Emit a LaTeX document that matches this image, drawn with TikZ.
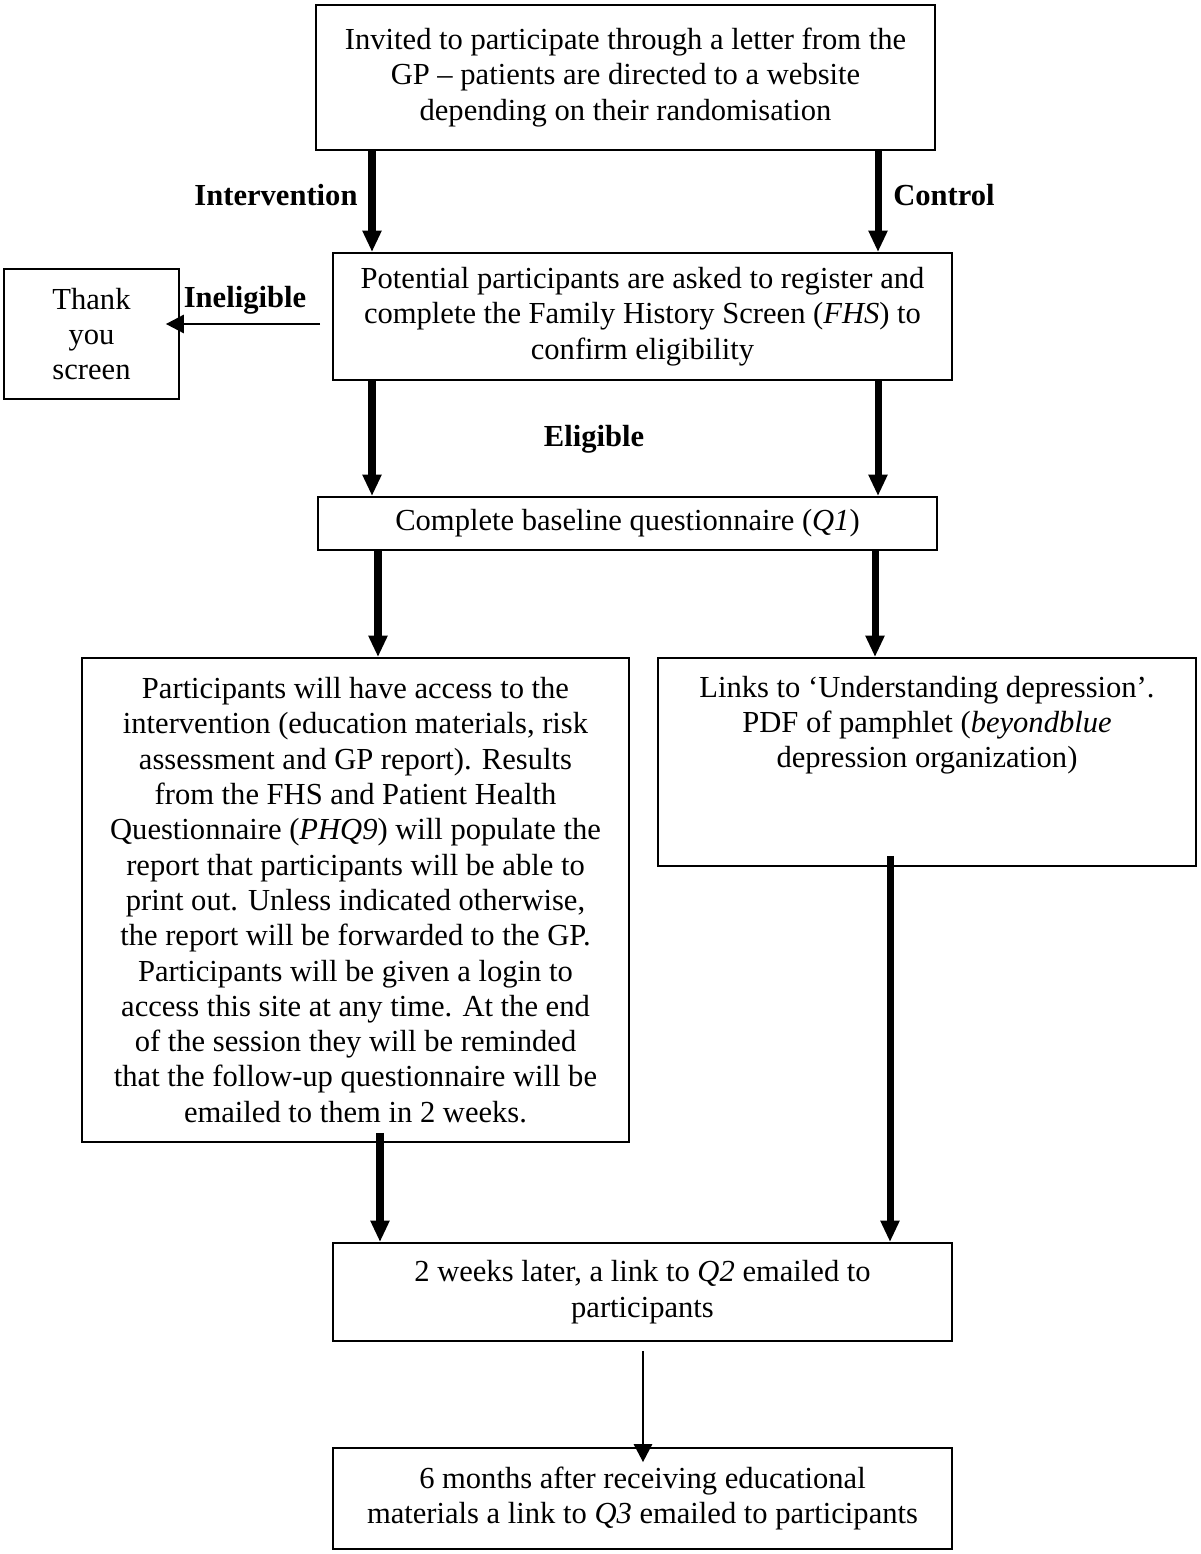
\documentclass[tikz,border=0pt]{standalone}
\usepackage{fontspec}
\setmainfont{Liberation Serif}
\usetikzlibrary{arrows.meta}

\tikzset{
  stage/.style={draw, line width=1.1pt, align=center, inner sep=0pt,
    font=\fontsize{17.4}{20.1}\selectfont},
  lbl/.style={font=\fontsize{17.4}{20.1}\selectfont\bfseries, inner sep=0pt},
  flow/.style={line width=4pt, -{Triangle[length=0.43cm,width=0.36cm]}},
  thinflow/.style={line width=0.8pt, -{Triangle[length=0.36cm,width=0.37cm]}}
}

\begin{document}
\begin{tikzpicture}[x=0.02cm, y=-0.02cm]
\useasboundingbox (0,0) rectangle (1200,1554);
% invitation
  \node[stage, minimum width=12.38cm, minimum height=2.9cm] (invite) at (625.5,77.5)
    {Invited to participate through a letter from the\\
     GP -- patients are directed to a website\\
     depending on their randomisation};
  \node[lbl] (intlbl) at (276,195) {Intervention};
  \node[lbl] (ctllbl) at (944,195) {Control};
% registration
  \node[stage, minimum width=12.38cm, minimum height=2.54cm] (register) at (642.5,316.5)
    {Potential participants are asked to register and\\
     complete the Family History Screen (\textit{FHS}) to\\
     confirm eligibility};
  \node[stage, minimum width=3.5cm, minimum height=2.6cm] (thanks) at (91.5,334)
    {Thank\\ you\\ screen};
  \node[lbl] (inellbl) at (245,300) {Ineligible};
  \node[lbl] (elilbl) at (594,439) {Eligible};
% baseline
  \node[stage, minimum width=12.38cm, minimum height=1.06cm] (baseline) at (627.5,523.5)
    {Complete baseline questionnaire (\textit{Q1})};
% arms
  \node[stage, minimum width=10.94cm, minimum height=9.68cm] (interv) at (355.5,900)
    {Participants will have access to the\\
     intervention (education materials, risk\\
     assessment and GP report). Results\\
     from the FHS and Patient Health\\
     Questionnaire (\textit{PHQ9}) will populate the\\
     report that participants will be able to\\
     print out. Unless indicated otherwise,\\
     the report will be forwarded to the GP.\\
     Participants will be given a login to\\
     access this site at any time. At the end\\
     of the session they will be reminded\\
     that the follow-up questionnaire will be\\
     emailed to them in 2 weeks.};
  \node[stage] (control) at (927,762)
    {\parbox[c][4.16cm][t]{10.76cm}{\centering\vspace*{0.36cm}%
     Links to ‘Understanding depression’.\\
     PDF of pamphlet (\textit{beyondblue}\\
     depression organization)}};
% follow-up
  \node[stage, minimum width=12.38cm, minimum height=1.96cm] (week2) at (642.5,1292)
    {2 weeks later, a link to \textit{Q2} emailed to\\ participants};
  \node[stage, minimum width=12.38cm, minimum height=2.02cm] (month6) at (642.5,1498.5)
    {6 months after receiving educational\\
     materials a link to \textit{Q3} emailed to participants};

% lanes
  \coordinate (la) at (372,0);
  \coordinate (ra) at (878,0);
  \coordinate (lb) at (378,0);
  \coordinate (rb) at (875,0);
  \coordinate (lc) at (380,0);
  \coordinate (rc) at (890,0);
  \coordinate (mid) at (643,0);
  \coordinate (inelfrom) at (320,324);

  \draw[flow] (invite.south -| la) -- (register.north -| la);
  \draw[flow] (invite.south -| ra) -- (register.north -| ra);
  \draw[thinflow, shorten >=-0.28cm] (inelfrom) -- (inelfrom -| thanks.east);
  \draw[flow] (register.south -| la) -- (baseline.north -| la);
  \draw[flow] (register.south -| ra) -- (baseline.north -| ra);
  \draw[flow] (baseline.south -| lb) -- (interv.north -| lb);
  \draw[flow] (baseline.south -| rb) -- (control.north -| rb);
  \draw[flow, shorten <=-0.2cm] (interv.south -| lc) -- (week2.north -| lc);
  \draw[flow, shorten <=-0.22cm] (control.south -| rc) -- (week2.north -| rc);
  \draw[thinflow, shorten <=0.18cm, shorten >=-0.3cm] (week2.south -| mid) -- (month6.north -| mid);
\end{tikzpicture}
\end{document}
